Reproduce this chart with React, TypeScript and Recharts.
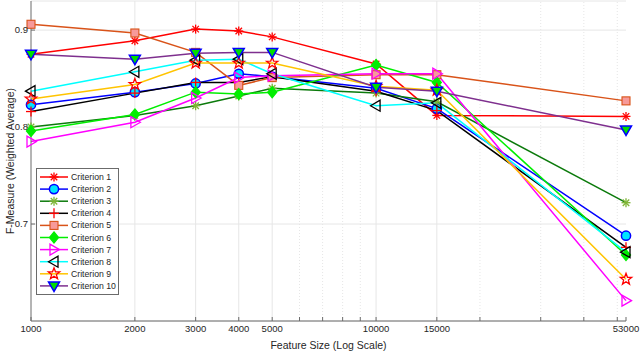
import React from 'react';
import { LineChart, Line, XAxis, YAxis, CartesianGrid, ReferenceLine, Legend } from 'recharts';

// feature sizes on the x axis (log scale)
const featureSizes = [1000, 2000, 3000, 4000, 5000, 10000, 15000, 53000];

const criterion1 = [0.875, 0.889, 0.901, 0.899, 0.893, 0.865, 0.812, 0.811];
const criterion2 = [0.823, 0.836, 0.845, 0.855, 0.852, 0.840, 0.819, 0.688];
const criterion3 = [0.8, 0.812, 0.822, 0.832, 0.84, 0.835, 0.826, 0.722];
const criterion4 = [0.816, 0.835, 0.846, 0.846, 0.852, 0.837, 0.817, 0.676];
const criterion5 = [0.906, 0.897, 0.877, 0.843, 0.851, 0.854, 0.854, 0.827];
const criterion6 = [0.796, 0.813, 0.836, 0.834, 0.836, 0.864, 0.846, 0.668];
const criterion7 = [0.785, 0.805, 0.83, 0.851, 0.853, 0.855, 0.855, 0.621];
const criterion8 = [0.837, 0.857, 0.869, 0.87, 0.855, 0.822, 0.825, 0.671];
const criterion9 = [0.829, 0.844, 0.866, 0.866, 0.866, 0.842, 0.838, 0.643];
const criterion10 = [0.875, 0.87, 0.876, 0.877, 0.877, 0.841, 0.837, 0.797];

const xMajorTicks = [1000, 2000, 3000, 4000, 5000, 10000, 15000, 53000];
const xMinorTicks = [6000, 7000, 8000, 9000, 20000, 30000, 40000, 50000];
const yTicks = [0.7, 0.8, 0.9];

type MarkerKind = 'asterisk' | 'circle' | 'plus' | 'square' | 'diamond' | 'right' | 'left' | 'star' | 'down';

interface Series {
  key: string;
  name: string;
  values: number[];
  color: string;
  marker: MarkerKind;
  edge: string;
  face: string;
}

const SERIES: Series[] = [
  { key: 'c1', name: 'Criterion 1', values: criterion1, color: '#ff0000', marker: 'asterisk', edge: '#ff0000', face: 'none' },
  { key: 'c2', name: 'Criterion 2', values: criterion2, color: '#0000ff', marker: 'circle', edge: '#0000ff', face: '#00e5ff' },
  { key: 'c3', name: 'Criterion 3', values: criterion3, color: '#0b7a0b', marker: 'asterisk', edge: '#7fb536', face: 'none' },
  { key: 'c4', name: 'Criterion 4', values: criterion4, color: '#000000', marker: 'plus', edge: '#ff0000', face: 'none' },
  { key: 'c5', name: 'Criterion 5', values: criterion5, color: '#d95319', marker: 'square', edge: '#d95319', face: '#f79a9a' },
  { key: 'c6', name: 'Criterion 6', values: criterion6, color: '#00ee00', marker: 'diamond', edge: '#00ee00', face: '#00ee00' },
  { key: 'c7', name: 'Criterion 7', values: criterion7, color: '#ff00ff', marker: 'right', edge: '#ff00ff', face: 'none' },
  { key: 'c8', name: 'Criterion 8', values: criterion8, color: '#00ffff', marker: 'left', edge: '#000000', face: 'none' },
  { key: 'c9', name: 'Criterion 9', values: criterion9, color: '#ffc400', marker: 'star', edge: '#ff0000', face: 'none' },
  { key: 'c10', name: 'Criterion 10', values: criterion10, color: '#7e2f8e', marker: 'down', edge: '#0000ff', face: '#00dd00' },
];

const data = featureSizes.map((x, i) => {
  const row: Record<string, number> = { x };
  SERIES.forEach(s => {
    row[s.key] = s.values[i];
  });
  return row;
});

const FONT = '"Liberation Sans", Arial, Helvetica, sans-serif';
const AXIS = '#6b6b6b';
const TEXT = '#262626';
const GRID = '#e6e6e6';

function Marker({ kind, cx, cy, edge, face }: { kind: MarkerKind; cx: number; cy: number; edge: string; face: string }) {
  const sw = 1.3;
  switch (kind) {
    case 'asterisk': {
      const r = 4.5;
      const d = r * 0.72;
      return (
        <g stroke={edge} strokeWidth={sw}>
          <line x1={cx - r} y1={cy} x2={cx + r} y2={cy} />
          <line x1={cx} y1={cy - r} x2={cx} y2={cy + r} />
          <line x1={cx - d} y1={cy - d} x2={cx + d} y2={cy + d} />
          <line x1={cx - d} y1={cy + d} x2={cx + d} y2={cy - d} />
        </g>
      );
    }
    case 'plus': {
      const r = 5;
      return (
        <g stroke={edge} strokeWidth={sw}>
          <line x1={cx - r} y1={cy} x2={cx + r} y2={cy} />
          <line x1={cx} y1={cy - r} x2={cx} y2={cy + r} />
        </g>
      );
    }
    case 'circle':
      return <circle cx={cx} cy={cy} r={4.6} stroke={edge} strokeWidth={1.5} fill={face} />;
    case 'square':
      return <rect x={cx - 4} y={cy - 4} width={8} height={8} stroke={edge} strokeWidth={1.1} fill={face} />;
    case 'diamond':
      return <polygon points={`${cx},${cy - 5.5} ${cx + 4.5},${cy} ${cx},${cy + 5.5} ${cx - 4.5},${cy}`} stroke={edge} strokeWidth={sw} fill={face} />;
    case 'right':
      return <polygon points={`${cx + 5.5},${cy} ${cx - 4},${cy - 5.5} ${cx - 4},${cy + 5.5}`} stroke={edge} strokeWidth={sw} fill={face} />;
    case 'left':
      return <polygon points={`${cx - 5.5},${cy} ${cx + 4},${cy - 5.5} ${cx + 4},${cy + 5.5}`} stroke={edge} strokeWidth={sw} fill={face} />;
    case 'down':
      return <polygon points={`${cx},${cy + 5.5} ${cx - 5.5},${cy - 4} ${cx + 5.5},${cy - 4}`} stroke={edge} strokeWidth={1.5} fill={face} />;
    case 'star': {
      const pts: string[] = [];
      for (let k = 0; k < 10; k++) {
        const rr = k % 2 === 0 ? 6 : 2.5;
        const a = -Math.PI / 2 + (k * Math.PI) / 5;
        pts.push(`${cx + rr * Math.cos(a)},${cy + rr * Math.sin(a)}`);
      }
      return <polygon points={pts.join(' ')} stroke={edge} strokeWidth={sw} fill={face} />;
    }
  }
  return null;
}

function makeDot(s: Series) {
  return (props: any) => {
    const { cx, cy, index } = props;
    if (cx == null || cy == null) return <g key={`${s.key}-${index}`} />;
    return (
      <g key={`${s.key}-${index}`}>
        <Marker kind={s.marker} cx={cx} cy={cy} edge={s.edge} face={s.face} />
      </g>
    );
  };
}

function LegendBox() {
  const rowH = 12.1;
  const w = 82;
  const h = SERIES.length * rowH + 5;
  return (
    <svg width={w + 2} height={h + 2} style={{ display: 'block' }}>
      <rect x={0.5} y={0.5} width={w} height={h} fill="#fff" stroke={AXIS} strokeWidth={1} />
      {SERIES.map((s, i) => {
        const y = 9 + i * rowH;
        return (
          <g key={s.key}>
            <line x1={4} y1={y} x2={32} y2={y} stroke={s.color} strokeWidth={1.5} />
            <Marker kind={s.marker} cx={18} cy={y} edge={s.edge} face={s.face} />
            <text x={35} y={y + 3} fontSize={8.7} fontFamily={FONT} fill={TEXT}>
              {s.name}
            </text>
          </g>
        );
      })}
    </svg>
  );
}

const allXTicks = [...xMajorTicks, ...xMinorTicks].sort((a, b) => a - b);

export default function App() {
  return (
    <div style={{ position: 'absolute', left: 0, top: 0, width: 640, height: 351, background: '#fff' }}>
      <LineChart width={640} height={351} data={data} margin={{ top: 1, right: 14, bottom: 0, left: 0 }}>
        <CartesianGrid xAxisId="bottom" yAxisId="left" vertical={false} stroke={GRID} />
        {xMinorTicks.map(t => (
          <ReferenceLine key={`m${t}`} xAxisId="bottom" yAxisId="left" x={t} stroke={GRID} strokeDasharray="1 2" />
        ))}
        {xMajorTicks.slice(1, -1).map(t => (
          <ReferenceLine key={`M${t}`} xAxisId="bottom" yAxisId="left" x={t} stroke={GRID} />
        ))}
        <XAxis
          xAxisId="bottom"
          dataKey="x"
          type="number"
          scale="log"
          domain={[1000, 53000]}
          ticks={allXTicks}
          interval={0}
          tickFormatter={(v: number) => (xMajorTicks.includes(v) ? String(v) : '')}
          height={30}
          tickSize={-4}
          tickMargin={8}
          stroke={AXIS}
          tick={{ fill: TEXT, fontSize: 9.5, fontFamily: FONT }}
          label={{ value: 'Feature Size (Log Scale)', position: 'insideBottom', offset: 2, fill: TEXT, fontSize: 10.5, fontFamily: FONT }}
        />
        <XAxis
          xAxisId="top"
          orientation="top"
          dataKey="x"
          type="number"
          scale="log"
          domain={[1000, 53000]}
          ticks={allXTicks}
          interval={0}
          tickFormatter={() => ''}
          height={0}
          tickSize={-4}
          stroke={AXIS}
        />
        <YAxis
          yAxisId="left"
          type="number"
          domain={[0.6, 0.93]}
          ticks={yTicks}
          interval={0}
          width={31}
          tickSize={-4}
          tickMargin={7}
          stroke={AXIS}
          tick={{ fill: TEXT, fontSize: 9.5, fontFamily: FONT }}
          label={{
            content: (props: any) => {
              const vb = props.viewBox || { x: 0, y: 0, height: 320 };
              const cx = vb.x + 10;
              const cy = vb.y + vb.height / 2;
              return (
                <text x={cx} y={cy} transform={`rotate(-90, ${cx}, ${cy})`} textAnchor="middle" dominantBaseline="central" fontSize={10.5} fontFamily={FONT} fill={TEXT}>
                  F-Measure (Weighted Average)
                </text>
              );
            },
          }}
        />
        <YAxis
          yAxisId="right"
          orientation="right"
          type="number"
          domain={[0.6, 0.93]}
          ticks={yTicks}
          interval={0}
          width={0}
          tickSize={-4}
          tickFormatter={() => ''}
          stroke={AXIS}
        />
        {SERIES.map(s => (
          <Line
            key={s.key}
            xAxisId="bottom"
            yAxisId="left"
            dataKey={s.key}
            name={s.name}
            type="linear"
            stroke={s.color}
            strokeWidth={1.5}
            dot={makeDot(s)}
            activeDot={false}
            isAnimationActive={false}
          />
        ))}
        <Legend
          layout="vertical"
          align="center"
          verticalAlign="middle"
          wrapperStyle={{ left: 36, top: 168, width: 86, height: 130 }}
          content={() => <LegendBox />}
        />
      </LineChart>
    </div>
  );
}
